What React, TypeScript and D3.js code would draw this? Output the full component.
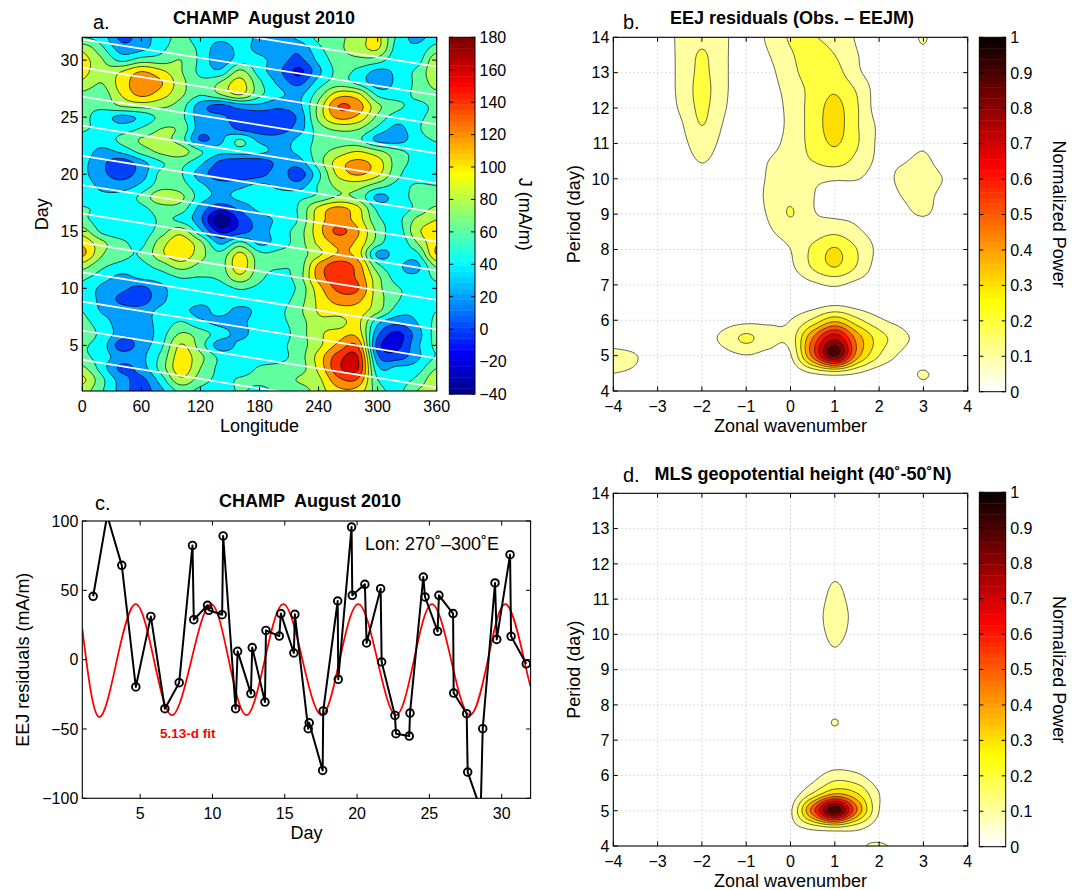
import React from "react";
import * as d3 from "d3";

const FONT = "'Liberation Sans', Arial, Helvetica, sans-serif";

// ---------------- Panel a: CHAMP J (mA/m), longitude x day ----------------
const aLon = [0, 20, 40, 60, 80, 100, 120, 140, 160, 180, 200, 220, 240, 260, 280, 300, 320, 340, 360];
const aDay = [1, 2, 3, 4, 5, 6, 7, 8, 9, 10, 11, 12, 13, 14, 15, 16, 17, 18, 19, 20, 21, 22, 23, 24, 25, 26, 27, 28, 29, 30, 31, 32];
// rows: day 1 .. day 32 ; columns: aLon
const aJ: number[][] = [
  [90, 62, 32, 10, 35, 65, 55, 50, 62, 55, 65, 70, 90, 115, 112, 70, 55, 80, 90],
  [105, 65, 30, 15, 50, 95, 70, 55, 62, 65, 70, 82, 95, 135, 138, 60, 50, 65, 95],
  [85, 50, 15, 30, 68, 112, 80, 55, 50, 62, 65, 70, 105, 155, 162, 45, 45, 50, 80],
  [65, 50, 30, 35, 65, 110, 85, 55, 50, 50, 55, 70, 108, 150, 160, 25, 10, 35, 62],
  [62, 50, 10, 30, 55, 102, 70, 30, 45, 50, 55, 70, 95, 125, 138, 10, -5, 35, 65],
  [68, 55, 30, 28, 50, 82, 70, 50, 35, 50, 50, 70, 95, 110, 112, 25, -5, 30, 68],
  [65, 50, 30, 35, 45, 62, 45, 35, 35, 50, 55, 70, 95, 92, 105, 45, 25, 40, 65],
  [60, 38, 30, 30, 45, 45, 35, 45, 35, 45, 55, 75, 102, 110, 110, 85, 50, 45, 60],
  [50, 35, 15, 10, 35, 50, 45, 45, 50, 45, 50, 70, 105, 128, 125, 90, 62, 50, 50],
  [55, 35, 25, 15, 35, 50, 45, 50, 62, 55, 50, 65, 112, 145, 142, 88, 62, 55, 55],
  [65, 50, 35, 45, 50, 62, 60, 65, 95, 65, 55, 70, 128, 152, 135, 85, 50, 45, 65],
  [90, 65, 55, 55, 70, 90, 75, 70, 112, 70, 62, 68, 125, 150, 130, 65, 45, 35, 85],
  [125, 82, 65, 62, 95, 115, 88, 65, 105, 65, 65, 70, 95, 122, 110, 35, 50, 55, 122],
  [115, 85, 65, 55, 90, 112, 85, 35, 65, 35, 50, 70, 105, 125, 115, 70, 45, 80, 118],
  [90, 55, 45, 48, 70, 92, 45, -5, 10, 30, 50, 70, 112, 145, 122, 75, 50, 95, 110],
  [65, 50, 48, 50, 62, 55, 25, -35, 5, 30, 45, 62, 110, 130, 110, 65, 55, 85, 100],
  [62, 55, 50, 55, 70, 70, 32, 5, 25, 45, 50, 62, 105, 125, 105, 55, 50, 65, 85],
  [50, 45, 48, 65, 95, 85, 50, 35, 45, 50, 50, 55, 65, 82, 75, 35, 50, 65, 62],
  [50, 35, 30, 45, 70, 68, 45, 30, 35, 45, 35, 30, 62, 85, 88, 70, 55, 62, 60],
  [45, 25, 12, 30, 65, 62, 30, 8, 5, 12, 30, 10, 55, 105, 122, 105, 65, 50, 48],
  [45, 25, 8, 32, 58, 65, 45, 15, 5, 8, 25, 30, 70, 110, 125, 110, 70, 55, 50],
  [50, 35, 45, 68, 85, 90, 62, 45, 50, 45, 35, 45, 70, 88, 100, 85, 65, 55, 55],
  [55, 50, 65, 82, 85, 70, 18, 35, 62, 35, 30, 45, 65, 70, 65, 35, 32, 50, 62],
  [62, 55, 50, 62, 80, 75, 30, 35, 15, 8, 10, 30, 70, 85, 82, 55, 35, 55, 80],
  [65, 50, 35, 45, 65, 65, 30, 25, 10, 5, 8, 25, 85, 125, 115, 75, 50, 55, 68],
  [65, 65, 82, 88, 85, 70, 30, 15, 30, 35, 25, 35, 85, 140, 130, 85, 65, 55, 65],
  [75, 70, 102, 125, 110, 85, 62, 80, 102, 65, 45, 35, 70, 110, 105, 55, 50, 65, 75],
  [95, 80, 110, 130, 122, 88, 65, 82, 108, 65, 35, 15, 50, 70, 55, 30, 45, 65, 88],
  [108, 85, 100, 120, 105, 82, 55, 45, 85, 50, 25, -5, 35, 65, 55, 35, 45, 65, 95],
  [108, 82, 55, 70, 70, 80, 55, 28, 50, 45, 30, 15, 45, 70, 75, 70, 45, 50, 95],
  [95, 65, 30, 35, 55, 70, 55, 30, 45, 35, 30, 25, 55, 75, 90, 102, 50, 45, 70],
  [60, 50, 15, 30, 50, 65, 50, 45, 50, 35, 30, 45, 65, 75, 90, 105, 55, 35, 50],
];
const aLevels = [-40, -20, 0, 20, 40, 60, 80, 100, 120, 140, 160];
const aLonTicks = [0, 60, 120, 180, 240, 300, 360];
const aDayTicks = [5, 10, 15, 20, 25, 30];
const aCbarTicks = [-40, -20, 0, 20, 40, 60, 80, 100, 120, 140, 160, 180];
// white satellite tracks: day at lon 0 and at lon 360
const trackStartDay = [34.41, 31.82, 29.34, 26.8, 24.25, 21.6, 19.05, 16.54, 14.0, 11.4, 8.83, 6.29, 3.72];
const trackEndDay = [29.43, 26.94, 24.37, 21.83, 19.2, 16.63, 14.09, 11.55, 8.98, 6.4, 3.86, 1.32, -1.26];

// ---------------- Panels b & d: normalized power, wavenumber x period ----------------
const kWave = [-4, -3.5, -3, -2.5, -2, -1.5, -1, -0.5, 0, 0.5, 1, 1.5, 2, 2.5, 3, 3.5, 4];
const period = [4, 4.5, 5, 5.5, 6, 6.5, 7, 7.5, 8, 8.5, 9, 9.5, 10, 10.5, 11, 11.5, 12, 12.5, 13, 13.5, 14];
const bPower: number[][] = [
  [0.06, 0.03, 0, 0, 0, 0, 0, 0, 0, 0.02, 0.04, 0.02, 0, 0.02, 0.06, 0.02, 0],
  [0.10, 0.08, 0.01, 0, 0, 0, 0.01, 0.01, 0.03, 0.10, 0.14, 0.10, 0.04, 0.04, 0.11, 0.03, 0],
  [0.13, 0.105, 0.03, 0, 0, 0.06, 0.095, 0.07, 0.09, 0.53, 0.93, 0.45, 0.20, 0.08, 0.02, 0, 0],
  [0.04, 0.02, 0, 0, 0.04, 0.13, 0.22, 0.14, 0.14, 0.50, 0.78, 0.46, 0.25, 0.14, 0.04, 0, 0],
  [0, 0, 0, 0, 0, 0.05, 0.07, 0.08, 0.10, 0.22, 0.37, 0.23, 0.12, 0.06, 0, 0, 0],
  [0, 0, 0, 0, 0, 0, 0, 0.01, 0.03, 0.05, 0.07, 0.05, 0.02, 0, 0, 0, 0],
  [0, 0, 0, 0, 0, 0, 0, 0.01, 0.03, 0.08, 0.11, 0.07, 0.03, 0, 0, 0, 0],
  [0, 0, 0, 0, 0, 0, 0, 0.03, 0.08, 0.21, 0.30, 0.19, 0.05, 0, 0, 0, 0],
  [0, 0, 0, 0, 0, 0, 0, 0.03, 0.10, 0.22, 0.31, 0.20, 0.07, 0, 0, 0, 0],
  [0, 0, 0, 0, 0, 0, 0, 0.08, 0.15, 0.15, 0.18, 0.12, 0.05, 0, 0, 0, 0],
  [0, 0, 0, 0, 0, 0, 0.02, 0.11, 0.205, 0.11, 0.08, 0.07, 0.02, 0.06, 0.11, 0.04, 0],
  [0, 0, 0, 0, 0, 0, 0.03, 0.12, 0.18, 0.105, 0.05, 0.04, 0.02, 0.10, 0.13, 0.06, 0],
  [0, 0, 0, 0, 0.06, 0.02, 0.03, 0.11, 0.14, 0.12, 0.11, 0.105, 0.06, 0.12, 0.14, 0.09, 0],
  [0, 0, 0, 0.04, 0.105, 0.05, 0.03, 0.10, 0.15, 0.20, 0.24, 0.17, 0.08, 0.09, 0.12, 0.05, 0],
  [0, 0, 0, 0.06, 0.15, 0.07, 0.03, 0.06, 0.14, 0.23, 0.31, 0.21, 0.08, 0.04, 0.08, 0.02, 0],
  [0, 0, 0, 0.08, 0.20, 0.09, 0.03, 0.04, 0.13, 0.24, 0.34, 0.21, 0.08, 0.02, 0.02, 0, 0],
  [0, 0, 0.02, 0.11, 0.22, 0.11, 0.03, 0.05, 0.13, 0.24, 0.33, 0.21, 0.05, 0.02, 0, 0, 0],
  [0, 0, 0.03, 0.12, 0.23, 0.12, 0.03, 0.06, 0.14, 0.23, 0.29, 0.19, 0.05, 0.02, 0, 0, 0],
  [0, 0, 0.03, 0.12, 0.22, 0.12, 0.03, 0.07, 0.17, 0.24, 0.24, 0.12, 0.05, 0.02, 0.05, 0, 0],
  [0, 0, 0.03, 0.12, 0.21, 0.12, 0.03, 0.095, 0.19, 0.23, 0.20, 0.105, 0.05, 0.02, 0.08, 0, 0],
  [0, 0, 0.03, 0.12, 0.18, 0.12, 0.03, 0.12, 0.21, 0.205, 0.17, 0.09, 0.04, 0.02, 0.11, 0, 0],
];
const dPower: number[][] = [
  [0, 0, 0, 0, 0, 0, 0, 0, 0, 0.01, 0.0, 0.08, 0.11, 0.07, 0, 0, 0],
  [0, 0, 0, 0, 0, 0, 0, 0, 0.06, 0.12, 0.16, 0.12, 0.05, 0.01, 0, 0, 0],
  [0, 0, 0, 0, 0, 0, 0, 0, 0.08, 0.55, 0.98, 0.50, 0.10, 0, 0, 0, 0],
  [0, 0, 0, 0, 0, 0, 0, 0, 0.03, 0.20, 0.38, 0.30, 0.10, 0, 0, 0, 0],
  [0, 0, 0, 0, 0, 0, 0, 0, 0.0, 0.06, 0.15, 0.12, 0.03, 0, 0, 0, 0],
  [0, 0, 0, 0, 0, 0, 0, 0, 0, 0.02, 0.03, 0.02, 0, 0, 0, 0, 0],
  [0, 0, 0, 0, 0, 0, 0, 0, 0, 0.01, 0.05, 0.01, 0, 0, 0, 0, 0],
  [0, 0, 0, 0, 0, 0, 0, 0, 0, 0.02, 0.105, 0.02, 0, 0, 0, 0, 0],
  [0, 0, 0, 0, 0, 0, 0, 0, 0, 0.01, 0.05, 0.01, 0, 0, 0, 0, 0],
  [0, 0, 0, 0, 0, 0, 0, 0, 0, 0, 0.02, 0, 0, 0, 0, 0, 0],
  [0, 0, 0, 0, 0, 0, 0, 0, 0, 0.01, 0.04, 0.01, 0, 0, 0, 0, 0],
  [0, 0, 0, 0, 0, 0, 0, 0, 0, 0.03, 0.09, 0.03, 0, 0, 0, 0, 0],
  [0, 0, 0, 0, 0, 0, 0, 0, 0, 0.05, 0.12, 0.06, 0, 0, 0, 0, 0],
  [0, 0, 0, 0, 0, 0, 0, 0, 0, 0.06, 0.13, 0.07, 0, 0, 0, 0, 0],
  [0, 0, 0, 0, 0, 0, 0, 0, 0, 0.05, 0.12, 0.06, 0, 0, 0, 0, 0],
  [0, 0, 0, 0, 0, 0, 0, 0, 0, 0.03, 0.10, 0.04, 0, 0, 0, 0, 0],
  [0, 0, 0, 0, 0, 0, 0, 0, 0, 0.01, 0.05, 0.01, 0, 0, 0, 0, 0],
  [0, 0, 0, 0, 0, 0, 0, 0, 0, 0, 0.01, 0, 0, 0, 0, 0, 0],
  [0, 0, 0, 0, 0, 0, 0, 0, 0, 0, 0, 0, 0, 0, 0, 0, 0],
  [0, 0, 0, 0, 0, 0, 0, 0, 0, 0, 0, 0, 0, 0, 0, 0, 0],
  [0, 0, 0, 0, 0, 0, 0, 0, 0, 0, 0, 0, 0, 0, 0, 0, 0],
];
const powerLevels = [0.1, 0.2, 0.3, 0.4, 0.5, 0.6, 0.7, 0.8, 0.9];
const kTicks = [-4, -3, -2, -1, 0, 1, 2, 3, 4];
const pTicks = [4, 5, 6, 7, 8, 9, 10, 11, 12, 13, 14];
const powerCbarTicks = [0, 0.1, 0.2, 0.3, 0.4, 0.5, 0.6, 0.7, 0.8, 0.9, 1];

// ---------------- Panel c: EEJ residuals at Lon 270-300E ----------------
const cDay = [1.75, 2.72, 3.73, 4.70, 5.74, 6.71, 7.70, 8.62, 8.71, 9.66, 9.75, 10.67, 10.74, 11.60, 11.74, 12.66, 12.75, 13.63, 13.70, 14.62, 14.73, 15.63, 15.70, 16.62, 16.69, 17.62, 17.66, 18.66, 18.70, 19.62, 19.67, 20.54, 20.66, 21.63, 21.70, 22.62, 22.69, 23.61, 23.66, 24.58, 24.70, 25.57, 25.66, 26.64, 26.68, 27.58, 27.65, 28.55, 28.69, 29.54, 29.66, 30.58, 30.65, 31.70];
const cResidual = [45.7, 104, 68, -19.7, 31.2, -35.4, -16.6, 82.4, 28.8, 39.2, 35.6, 32.4, 89.2, -35.4, 6.0, -24.5, 8.7, -30.6, 21.1, 17.0, 33.2, 4.8, 32.7, -49.8, -45.5, -79.9, -37.0, 42.3, -14.2, 95.6, 46.4, 54.3, 12.0, 51.2, -1.7, -40.2, -53.4, -55.1, -38.5, 59.6, 45.2, 20.4, 46.4, 33.2, -24.1, -39.0, -81.1, -108, -49.8, 55.3, 14.6, 75.7, 16.8, -3];
const fitDay = [1.0, 2.1, 3.4, 4.7, 5.95, 7.2, 8.55, 9.9, 11.12, 12.35, 13.62, 14.9, 16.22, 17.55, 18.8, 20.08, 21.4, 22.7, 23.94, 25.18, 26.5, 27.8, 29.05, 30.3, 31.55, 32.0];
const fitValue = [22.4, -41, 0, 40, 0, -40, 0, 40, 0, -40, 0, 40, 0, -40, 0, 40, 0, -40, 0, 40, 0, -40, 0, 40, 0, -19.5];
const cDayTicks = [5, 10, 15, 20, 25, 30];
const cValueTicks = [-100, -50, 0, 50, 100];

// ---------------- layout ----------------
type Box = { x0: number; x1: number; y0: number; y1: number };
const A: Box = { x0: 82.3, x1: 436.7, y0: 37.3, y1: 391 };
const ACB: Box = { x0: 449.3, x1: 475, y0: 37.3, y1: 394 };
const B: Box = { x0: 613.3, x1: 967.7, y0: 37.3, y1: 391 };
const BCB: Box = { x0: 979.3, x1: 1005.7, y0: 37.3, y1: 391.7 };
const C: Box = { x0: 82.3, x1: 530.6, y0: 521, y1: 798.3 };
const D: Box = { x0: 613.3, x1: 967.7, y0: 493.3, y1: 846 };
const DCB: Box = { x0: 979.3, x1: 1005.7, y0: 492.3, y1: 846.7 };
const TICK = 4.5;
const TICK_FS = 16;
const LABEL_FS = 18;
const TITLE_FS = 18;

// ---------------- colormaps (MATLAB jet(64), flipud(hot(64))) ----------------
function jet64(): string[] {
  const u: number[] = [];
  for (let k = 1; k <= 16; k++) u.push(k / 16);
  for (let k = 0; k < 15; k++) u.push(1);
  for (let k = 16; k >= 1; k--) u.push(k / 16);
  const out: string[] = [];
  for (let i = 1; i <= 64; i++) {
    const gi = i - 8, ri = i - 24, bi = i + 8;
    const g = gi >= 1 && gi <= 47 ? u[gi - 1] : 0;
    const r = ri >= 1 && ri <= 47 ? u[ri - 1] : 0;
    const b = bi >= 1 && bi <= 47 ? u[bi - 1] : 0;
    out.push(d3.rgb(r * 255, g * 255, b * 255).formatHex());
  }
  return out;
}
function hotR64(): string[] {
  const out: string[] = [];
  for (let i = 1; i <= 64; i++) {
    const h = 65 - i;
    const r = h <= 24 ? h / 24 : 1;
    const g = h <= 24 ? 0 : h <= 48 ? (h - 24) / 24 : 1;
    const b = h <= 48 ? 0 : (h - 48) / 16;
    out.push(d3.rgb(r * 255, g * 255, b * 255).formatHex());
  }
  return out;
}
const JET = jet64();
const HOTR = hotR64();
function levelColor(cmap: string[], v: number, cmin: number, cmax: number) {
  const idx = Math.min(64, Math.max(1, Math.floor(((v - cmin) / (cmax - cmin)) * 64 + 1e-9) + 1));
  return cmap[idx - 1];
}

// ---------------- contouring helpers ----------------
function catmull(p0: number, p1: number, p2: number, p3: number, t: number) {
  return p1 + 0.5 * t * (p2 - p0 + t * (2 * p0 - 5 * p1 + 4 * p2 - p3 + t * (3 * (p1 - p2) + p3 - p0)));
}
function upsample(grid: number[][], f: number) {
  const ny = grid.length, nx = grid[0].length;
  const NX = (nx - 1) * f + 1, NY = (ny - 1) * f + 1;
  const get = (r: number, c: number) => grid[Math.max(0, Math.min(ny - 1, r))][Math.max(0, Math.min(nx - 1, c))];
  const out: number[] = new Array(NX * NY);
  for (let J = 0; J < NY; J++) {
    const y = J / f;
    const j = Math.min(Math.floor(y), ny - 2);
    const ty = y - j;
    for (let I = 0; I < NX; I++) {
      const x = I / f;
      const i = Math.min(Math.floor(x), nx - 2);
      const tx = x - i;
      const rr = [-1, 0, 1, 2].map((dj) => catmull(get(j + dj, i - 1), get(j + dj, i), get(j + dj, i + 1), get(j + dj, i + 2), tx));
      out[J * NX + I] = catmull(rr[0], rr[1], rr[2], rr[3], ty);
    }
  }
  return { values: out, NX, NY };
}
function contourLayers(
  grid: number[][], xs: number[], ys: number[], levels: number[], f: number,
  sx: (v: number) => number, sy: (v: number) => number
) {
  const { values, NX, NY } = upsample(grid, f);
  const dx = xs[1] - xs[0], dy = ys[1] - ys[0];
  const cs = d3.contours().size([NX, NY]).thresholds(levels)(values);
  const px = (c: number) => sx(xs[0] + ((c - 0.5) / f) * dx);
  const py = (c: number) => sy(ys[0] + ((c - 0.5) / f) * dy);
  return cs.map((c) => ({
    value: c.value,
    d: c.coordinates
      .map((poly) => poly.map((ring) => "M" + ring.map((p) => px(p[0]).toFixed(2) + "," + py(p[1]).toFixed(2)).join("L") + "Z").join(""))
      .join(""),
  }));
}

const fmtNum = (v: number) => (v < 0 ? "\u2212" + Math.abs(v) : String(v));

function Frame({ box, xTicks, yTicks, sx, sy, xFmt = fmtNum, yFmt = fmtNum }: {
  box: Box; xTicks: number[]; yTicks: number[]; sx: (v: number) => number; sy: (v: number) => number;
  xFmt?: (v: number) => string; yFmt?: (v: number) => string;
}) {
  return (
    <g>
      {xTicks.map((t) => (
        <g key={"x" + t}>
          <line x1={sx(t)} x2={sx(t)} y1={box.y1} y2={box.y1 - TICK} stroke="#000" strokeWidth={1} />
          <line x1={sx(t)} x2={sx(t)} y1={box.y0} y2={box.y0 + TICK} stroke="#000" strokeWidth={1} />
          <text x={sx(t)} y={box.y1 + 20.7} textAnchor="middle" fontSize={TICK_FS}>{xFmt(t)}</text>
        </g>
      ))}
      {yTicks.map((t) => (
        <g key={"y" + t}>
          <line x1={box.x0} x2={box.x0 + TICK} y1={sy(t)} y2={sy(t)} stroke="#000" strokeWidth={1} />
          <line x1={box.x1} x2={box.x1 - TICK} y1={sy(t)} y2={sy(t)} stroke="#000" strokeWidth={1} />
          <text x={box.x0 - 4} y={sy(t) + 5.8} textAnchor="end" fontSize={TICK_FS}>{yFmt(t)}</text>
        </g>
      ))}
      <rect x={box.x0} y={box.y0} width={box.x1 - box.x0} height={box.y1 - box.y0} fill="none" stroke="#000" strokeWidth={1.1} />
    </g>
  );
}

function Colorbar({ box, cmap, cmin, cmax, ticks, fmt }: {
  box: Box; cmap: string[]; cmin: number; cmax: number; ticks: number[]; fmt: (v: number) => string;
}) {
  const s = d3.scaleLinear().domain([cmin, cmax]).range([box.y1, box.y0]);
  const step = (cmax - cmin) / 64;
  return (
    <g>
      {cmap.map((c, i) => (
        <rect key={i} x={box.x0} width={box.x1 - box.x0} y={s(cmin + (i + 1) * step)} height={s(cmin + i * step) - s(cmin + (i + 1) * step) + 0.4} fill={c} />
      ))}
      {ticks.map((t) => (
        <g key={t}>
          <line x1={box.x1} x2={box.x1 - 4} y1={s(t)} y2={s(t)} stroke="#000" strokeWidth={1} />
          <line x1={box.x0} x2={box.x0 + 4} y1={s(t)} y2={s(t)} stroke="#000" strokeWidth={1} />
          <text x={box.x1 + 4.5} y={s(t) + 5.8} fontSize={TICK_FS}>{fmt(t)}</text>
        </g>
      ))}
      <rect x={box.x0} y={box.y0} width={box.x1 - box.x0} height={box.y1 - box.y0} fill="none" stroke="#000" strokeWidth={1} />
    </g>
  );
}

function PowerPanel({ box, cb, grid, id }: { box: Box; cb: Box; grid: number[][]; id: string }) {
  const sx = d3.scaleLinear().domain([-4, 4]).range([box.x0, box.x1]);
  const sy = d3.scaleLinear().domain([4, 14]).range([box.y1, box.y0]);
  const layers = contourLayers(grid, kWave, period, powerLevels, 8, sx, sy);
  return (
    <g>
      <clipPath id={id}>
        <rect x={box.x0} y={box.y0} width={box.x1 - box.x0} height={box.y1 - box.y0} />
      </clipPath>
      <rect x={box.x0} y={box.y0} width={box.x1 - box.x0} height={box.y1 - box.y0} fill="#fff" />
      {kTicks.slice(1, -1).map((k) => (
        <line key={"gk" + k} x1={sx(k)} x2={sx(k)} y1={box.y0} y2={box.y1} stroke="#aaa" strokeWidth={0.8} strokeDasharray="1,3" />
      ))}
      {pTicks.slice(1, -1).map((p) => (
        <line key={"gp" + p} x1={box.x0} x2={box.x1} y1={sy(p)} y2={sy(p)} stroke="#aaa" strokeWidth={0.8} strokeDasharray="1,3" />
      ))}
      <g clipPath={`url(#${id})`}>
        {layers.map((l) => (
          <path key={"f" + l.value} d={l.d} fill={levelColor(HOTR, l.value, 0, 1)} fillRule="evenodd" stroke="none" />
        ))}
        {layers.map((l) => (
          <path key={"s" + l.value} d={l.d} fill="none" stroke="#222" strokeWidth={0.7} />
        ))}
      </g>
      <Frame box={box} xTicks={kTicks} yTicks={pTicks} sx={sx} sy={sy} />
      <Colorbar box={cb} cmap={HOTR} cmin={0} cmax={1} ticks={powerCbarTicks} fmt={(v) => String(+v.toFixed(1))} />
      <text x={(box.x0 + box.x1) / 2} y={box.y1 + 41} textAnchor="middle" fontSize={LABEL_FS}>Zonal wavenumber</text>
      <text transform={`translate(580,${(box.y0 + box.y1) / 2}) rotate(-90)`} textAnchor="middle" fontSize={LABEL_FS}>Period (day)</text>
      <text transform={`translate(1053,${(box.y0 + box.y1) / 2}) rotate(90)`} textAnchor="middle" fontSize={LABEL_FS}>Normalized Power</text>
    </g>
  );
}

function PanelA() {
  const sx = d3.scaleLinear().domain([0, 360]).range([A.x0, A.x1]);
  const sy = d3.scaleLinear().domain([1, 32]).range([A.y1, A.y0]);
  const layers = contourLayers(aJ, aLon, aDay, aLevels, 6, sx, sy);
  return (
    <g>
      <clipPath id="clipA">
        <rect x={A.x0} y={A.y0} width={A.x1 - A.x0} height={A.y1 - A.y0} />
      </clipPath>
      <g clipPath="url(#clipA)">
        <rect x={A.x0} y={A.y0} width={A.x1 - A.x0} height={A.y1 - A.y0} fill={levelColor(JET, -40, -40, 180)} />
        {layers.map((l) => (
          <path key={"f" + l.value} d={l.d} fill={levelColor(JET, l.value, -40, 180)} fillRule="evenodd" stroke="none" />
        ))}
        {layers.map((l) => (
          <path key={"s" + l.value} d={l.d} fill="none" stroke="#000" strokeWidth={0.7} />
        ))}
        {trackStartDay.map((d0, i) => (
          <line key={"t" + i} x1={sx(0)} y1={sy(d0)} x2={sx(360)} y2={sy(trackEndDay[i])} stroke="#fff" strokeWidth={1.8} />
        ))}
      </g>
      <Frame box={A} xTicks={aLonTicks} yTicks={aDayTicks} sx={sx} sy={sy} />
      <Colorbar box={ACB} cmap={JET} cmin={-40} cmax={180} ticks={aCbarTicks} fmt={fmtNum} />
      <text x={(A.x0 + A.x1) / 2} y={A.y1 + 41} textAnchor="middle" fontSize={LABEL_FS}>Longitude</text>
      <text transform={`translate(48,${(A.y0 + A.y1) / 2}) rotate(-90)`} textAnchor="middle" fontSize={LABEL_FS}>Day</text>
      <text transform={`translate(519,${(A.y0 + A.y1) / 2}) rotate(90)`} textAnchor="middle" fontSize={LABEL_FS}>J (mA/m)</text>
    </g>
  );
}

function PanelC() {
  const sx = d3.scaleLinear().domain([1, 32]).range([C.x0, C.x1]);
  const sy = d3.scaleLinear().domain([-100, 100]).range([C.y1, C.y0]);
  const pts = cDay.map((d, i) => [d, cResidual[i]] as [number, number]);
  const fit = fitDay.map((d, i) => [d, fitValue[i]] as [number, number]);
  const line = d3.line<[number, number]>().x((p) => sx(p[0])).y((p) => sy(p[1]));
  const fitLine = d3.line<[number, number]>().x((p) => sx(p[0])).y((p) => sy(p[1])).curve(d3.curveNatural);
  return (
    <g>
      <clipPath id="clipC">
        <rect x={C.x0} y={C.y0} width={C.x1 - C.x0} height={C.y1 - C.y0} />
      </clipPath>
      <g clipPath="url(#clipC)">
        <path d={fitLine(fit) || ""} fill="none" stroke="#ff0000" strokeWidth={1.8} />
        <path d={line(pts) || ""} fill="none" stroke="#000" strokeWidth={2} strokeLinejoin="round" />
        {pts.map((p, i) => (
          <circle key={i} cx={sx(p[0])} cy={sy(p[1])} r={3.8} fill="none" stroke="#000" strokeWidth={1.9} />
        ))}
      </g>
      <Frame box={C} xTicks={cDayTicks} yTicks={cValueTicks} sx={sx} sy={sy} />
      <text x={365} y={550} fontSize={18}>Lon: 270˚–300˚E</text>
      <text x={160} y={738} fontSize={13.5} fontWeight="bold" fill="#ff0000">5.13-d fit</text>
      <text x={(C.x0 + C.x1) / 2} y={C.y1 + 41} textAnchor="middle" fontSize={LABEL_FS}>Day</text>
      <text transform={`translate(28.5,${(C.y0 + C.y1) / 2}) rotate(-90)`} textAnchor="middle" fontSize={LABEL_FS}>EEJ residuals (mA/m)</text>
    </g>
  );
}

export default function App() {
  return (
    <svg
      width={1078}
      height={890}
      viewBox="0 0 1078 890"
      style={{ position: "absolute", left: 0, top: 0, background: "#fff", fontFamily: FONT }}
      fontFamily={FONT}
    >
      <rect x={0} y={0} width={1078} height={890} fill="#fff" />
      <PanelA />
      <text x={93} y={29} fontSize={20}>a.</text>
      <text x={264} y={24} textAnchor="middle" fontSize={TITLE_FS} fontWeight="bold" style={{ whiteSpace: "pre" }}>CHAMP  August 2010</text>

      <PowerPanel box={B} cb={BCB} grid={bPower} id="clipB" />
      <text x={623} y={29} fontSize={20}>b.</text>
      <text x={792} y={24} textAnchor="middle" fontSize={TITLE_FS} fontWeight="bold">EEJ residuals (Obs. – EEJM)</text>

      <PanelC />
      <text x={95} y={510} fontSize={20}>c.</text>
      <text x={310} y={507} textAnchor="middle" fontSize={TITLE_FS} fontWeight="bold" style={{ whiteSpace: "pre" }}>CHAMP  August 2010</text>

      <PowerPanel box={D} cb={DCB} grid={dPower} id="clipD" />
      <text x={623} y={482} fontSize={20}>d.</text>
      <text x={803} y={480} textAnchor="middle" fontSize={TITLE_FS} fontWeight="bold">MLS geopotential height (40˚-50˚N)</text>
    </svg>
  );
}
